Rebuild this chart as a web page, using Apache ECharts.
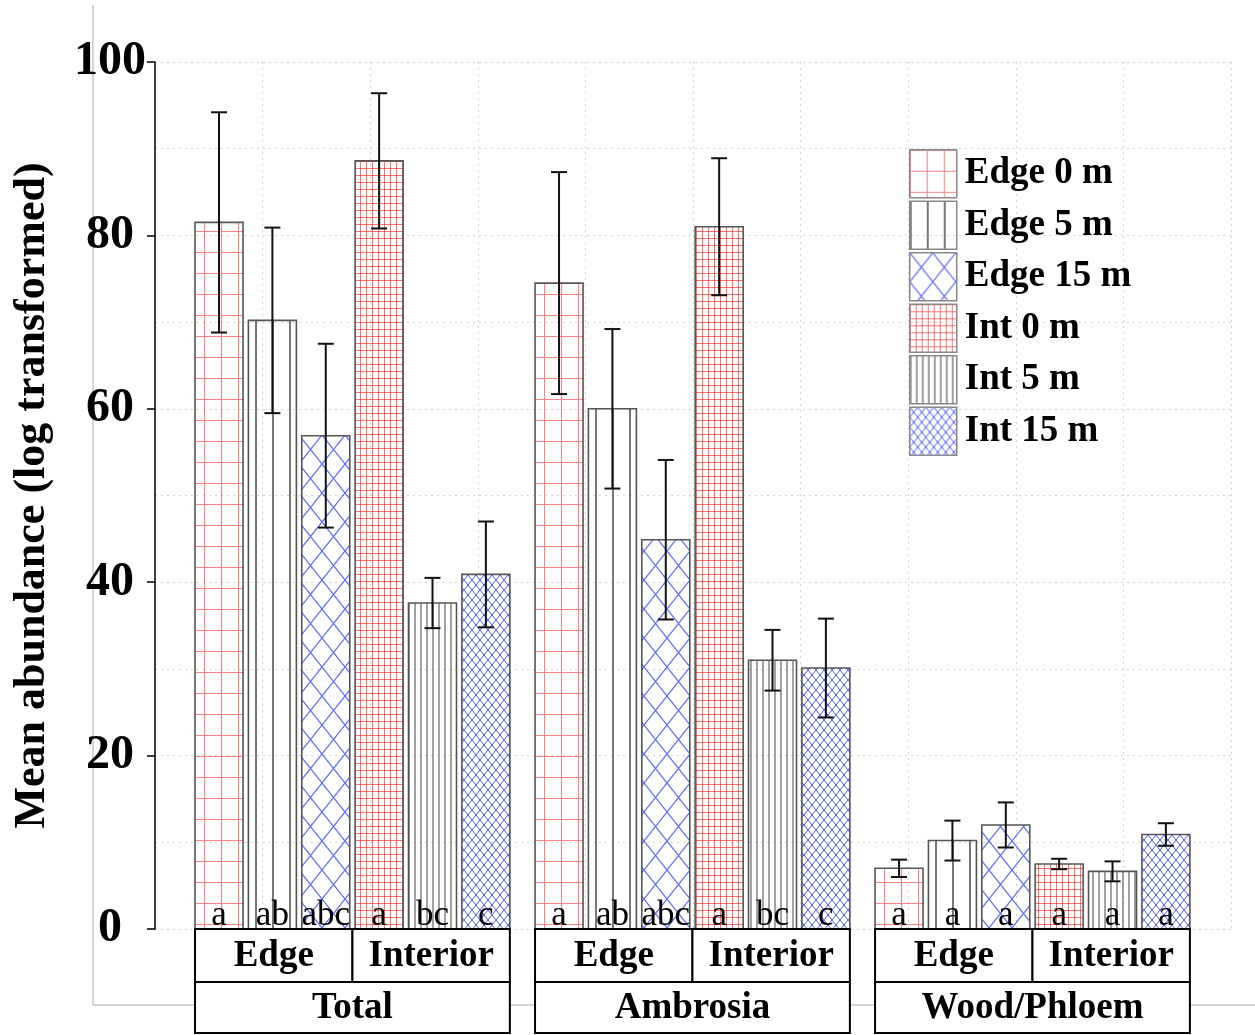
<!DOCTYPE html>
<html>
<head>
<meta charset="utf-8">
<title>Mean abundance by edge distance</title>
<script src="https://cdn.jsdelivr.net/npm/echarts@6/dist/echarts.min.js"></script>
<style>
  html, body { margin: 0; padding: 0; background: #fff; }
  #chart { width: 1255px; height: 1035px; }
</style>
</head>
<body>
<div id="chart"></div>
<script>
// ---- data -------------------------------------------------------------
const groups = ['Total', 'Ambrosia', 'Wood/Phloem'];
const habitats = ['Edge', 'Interior'];
const seriesNames = ['Edge 0 m', 'Edge 5 m', 'Edge 15 m', 'Int 0 m', 'Int 5 m', 'Int 15 m'];

// mean abundance (log transformed) per group: Total, Ambrosia, Wood/Phloem
const meanEdge0  = [81.5, 74.5, 7.0];
const meanEdge5  = [70.2, 60.0, 10.2];
const meanEdge15 = [56.9, 44.9, 12.0];
const meanInt0   = [88.6, 81.0, 7.5];
const meanInt5   = [37.6, 31.0, 6.65];
const meanInt15  = [40.9, 30.1, 10.9];

// standard error
const seEdge0  = [12.7, 12.8, 1.0];
const seEdge5  = [10.7, 9.2, 2.3];
const seEdge15 = [10.6, 9.2, 2.6];
const seInt0   = [7.8, 7.9, 0.6];
const seInt5   = [2.9, 3.5, 1.15];
const seInt15  = [6.1, 5.7, 1.3];

// significance letters
const lettersEdge0  = ['a', 'a', 'a'];
const lettersEdge5  = ['ab', 'ab', 'a'];
const lettersEdge15 = ['abc', 'abc', 'a'];
const lettersInt0   = ['a', 'a', 'a'];
const lettersInt5   = ['bc', 'bc', 'a'];
const lettersInt15  = ['c', 'c', 'a'];

const yMin = 0, yMax = 100, yStep = 20;

const means = [meanEdge0, meanEdge5, meanEdge15, meanInt0, meanInt5, meanInt15];
const ses = [seEdge0, seEdge5, seEdge15, seInt0, seInt5, seInt15];
const letters = [lettersEdge0, lettersEdge5, lettersEdge15, lettersInt0, lettersInt5, lettersInt15];

// ---- layout along the x value axis (0..10) ----------------------------
const GROUP_START = 0.372;
const GROUP_STEP = 3.16;
const BAR_STEP = 0.496;
const BAR_W = 0.446;
const SERIF = '"Liberation Serif", "Times New Roman", serif';

// ---- fill patterns ----------------------------------------------------
function pattern(w, h, draw) {
  const c = document.createElement('canvas');
  c.width = w; c.height = h;
  const ctx = c.getContext('2d');
  draw(ctx, w, h);
  return { image: c, repeat: 'repeat' };
}
function grid(w, h, color, lw) {
  return pattern(w, h, (ctx) => {
    ctx.strokeStyle = color; ctx.lineWidth = lw;
    ctx.beginPath();
    ctx.moveTo(0.5, 0); ctx.lineTo(0.5, h);
    ctx.moveTo(0, 0.5); ctx.lineTo(w, 0.5);
    ctx.stroke();
  });
}
function vlines(w, h, color, lw) {
  return pattern(w, h, (ctx) => {
    ctx.strokeStyle = color; ctx.lineWidth = lw;
    ctx.beginPath();
    ctx.moveTo(1, 0); ctx.lineTo(1, h);
    ctx.stroke();
  });
}
function cross(w, h, color, lw) {
  return pattern(w, h, (ctx) => {
    ctx.strokeStyle = color; ctx.lineWidth = lw;
    ctx.beginPath();
    ctx.moveTo(0, 0); ctx.lineTo(w, h);
    ctx.moveTo(w, 0); ctx.lineTo(0, h);
    ctx.stroke();
  });
}
const fills = [
  grid(17, 21, 'rgba(255,30,30,0.55)', 1.2),
  vlines(17, 12, '#555', 1.6),
  cross(23, 29, 'rgba(40,60,255,0.75)', 1.2),
  grid(6, 7, 'rgba(255,20,20,0.6)', 1),
  vlines(6, 12, '#555', 1.1),
  cross(8, 10, 'rgba(30,50,255,0.8)', 1)
];

// ---- series -----------------------------------------------------------
function barSeries(s) {
  return {
    type: 'custom',
    name: seriesNames[s],
    clip: false,
    encode: { x: 0, y: 1 },
    itemStyle: { color: fills[s], borderColor: '#666', borderWidth: 1.5 },
    data: groups.map((g, gi) => [gi, means[s][gi], ses[s][gi]]),
    renderItem: function (params, api) {
      const gi = api.value(0), mean = api.value(1), se = api.value(2);
      const x0 = GROUP_START + gi * GROUP_STEP + s * BAR_STEP;
      const base = api.coord([x0, 0]);
      const top = api.coord([x0 + BAR_W, mean]);
      const xc = (base[0] + top[0]) / 2;
      const eTop = api.coord([x0, mean + se])[1];
      const eBot = api.coord([x0, mean - se])[1];
      const cap = 8;
      const errStyle = { stroke: '#111', lineWidth: 2 };
      return {
        type: 'group',
        children: [
          {
            type: 'rect',
            shape: { x: base[0], y: top[1], width: top[0] - base[0], height: base[1] - top[1] },
            style: { fill: fills[s], stroke: '#555', lineWidth: 1.6 }
          },
          {
            type: 'text',
            style: {
              text: letters[s][params.dataIndex],
              x: xc, y: base[1] - 13,
              align: 'center', verticalAlign: 'middle',
              font: '35px ' + SERIF, fill: '#000'
            }
          },
          { type: 'line', shape: { x1: xc, y1: eTop, x2: xc, y2: eBot }, style: errStyle },
          { type: 'line', shape: { x1: xc - cap, y1: eTop, x2: xc + cap, y2: eTop }, style: errStyle },
          { type: 'line', shape: { x1: xc - cap, y1: eBot, x2: xc + cap, y2: eBot }, style: errStyle }
        ]
      };
    }
  };
}

// boxed two-row category labels under each group
const labelSeries = {
  type: 'custom',
  name: 'groupLabels',
  clip: false,
  silent: true,
  encode: { x: 0, y: 1 },
  data: groups.map((g, gi) => [gi, 0]),
  renderItem: function (params, api) {
    const gi = api.value(0);
    const left = GROUP_START + gi * GROUP_STEP;
    const right = left + 5 * BAR_STEP + BAR_W;
    const pL = api.coord([left, 0]);
    const pR = api.coord([right, 0]);
    const pM = [(pL[0] + pR[0]) / 2, pL[1]];
    const y0 = pL[1], y1 = y0 + 53, y2 = y0 + 104;
    const box = { fill: '#fff', stroke: '#000', lineWidth: 2 };
    const font = 'bold 37px ' + SERIF;
    const txt = (t, x, y) => ({
      type: 'text',
      style: { text: t, x: x, y: y, align: 'center', verticalAlign: 'middle', font: font, fill: '#000' }
    });
    return {
      type: 'group',
      children: [
        { type: 'rect', shape: { x: pL[0], y: y0, width: pM[0] - pL[0], height: y1 - y0 }, style: box },
        { type: 'rect', shape: { x: pM[0], y: y0, width: pR[0] - pM[0], height: y1 - y0 }, style: box },
        { type: 'rect', shape: { x: pL[0], y: y1, width: pR[0] - pL[0], height: y2 - y1 }, style: box },
        txt(habitats[0], (pL[0] + pM[0]) / 2, (y0 + y1) / 2 + 1),
        txt(habitats[1], (pM[0] + pR[0]) / 2, (y0 + y1) / 2 + 1),
        txt(groups[gi], pM[0], (y1 + y2) / 2 + 1)
      ]
    };
  }
};

const chart = echarts.init(document.getElementById('chart'), null, { renderer: 'canvas' });
chart.setOption({
  backgroundColor: '#fff',
  animation: false,
  grid: { left: 155, right: 24, top: 62, bottom: 106, containLabel: false, outerBoundsMode: 'none' },
  graphic: [
    {
      type: 'polyline',
      silent: true,
      shape: { points: [[93, 5], [93, 1005], [1255, 1005]] },
      style: { stroke: '#c8c8c8', lineWidth: 1.5, fill: null },
      z: -1
    }
  ],
  legend: {
    orient: 'vertical',
    left: 909,
    top: 149,
    padding: 0,
    icon: 'rect',
    itemWidth: 47,
    itemHeight: 48,
    itemGap: 2,
    selectedMode: false,
    itemStyle: { borderColor: '#888', borderWidth: 1.5 },
    textStyle: { fontFamily: SERIF, fontWeight: 'bold', fontSize: 37, color: '#000', padding: [0, 0, 0, 3] },
    data: seriesNames
  },
  xAxis: {
    type: 'value',
    min: 0, max: 10, interval: 1,
    axisLine: { show: false },
    axisTick: { show: false },
    axisLabel: { show: false },
    splitLine: { show: true, lineStyle: { color: '#d4d4d4', type: [2, 4], width: 1 } }
  },
  yAxis: {
    type: 'value',
    min: yMin, max: yMax, interval: yStep,
    name: 'Mean abundance (log transformed)',
    nameLocation: 'middle',
    nameGap: 100,
    nameTextStyle: { fontFamily: SERIF, fontWeight: 'bold', fontSize: 44, color: '#000' },
    axisLine: { show: true, lineStyle: { color: '#000', width: 1.5 } },
    axisTick: { show: true, length: 8, lineStyle: { color: '#000', width: 1.5 } },
    axisLabel: {
      align: 'center', margin: 45,
      fontFamily: SERIF, fontWeight: 'bold', fontSize: 48, color: '#000'
    },
    splitLine: { show: true, lineStyle: { color: '#d4d4d4', type: [2, 4], width: 1 } },
    minorTick: { show: false, splitNumber: 2 },
    minorSplitLine: { show: true, lineStyle: { color: '#d4d4d4', type: [2, 4], width: 1 } }
  },
  series: [0, 1, 2, 3, 4, 5].map(barSeries).concat([labelSeries])
});
</script>
</body>
</html>
